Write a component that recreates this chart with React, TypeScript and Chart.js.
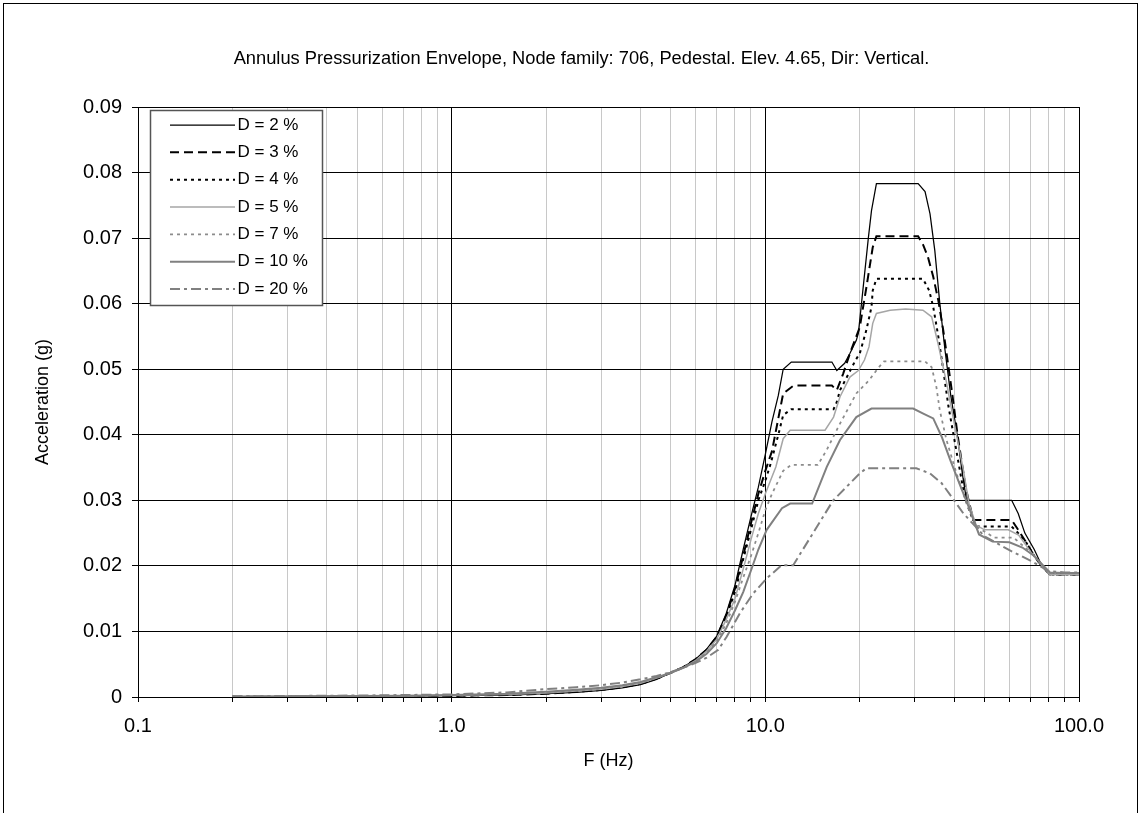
import React, { useEffect, useRef } from 'react';
import { Chart, registerables } from 'chart.js';

Chart.register(...registerables);

const titleText = 'Annulus Pressurization Envelope, Node family: 706, Pedestal. Elev. 4.65, Dir: Vertical.';
const xAxisTitle = 'F (Hz)';
const yAxisTitle = 'Acceleration (g)';

const xTickValues = [0.1, 0.2, 0.3, 0.4, 0.5, 0.6, 0.7, 0.8, 0.9, 1, 2, 3, 4, 5, 6, 7, 8, 9, 10, 20, 30, 40, 50, 60, 70, 80, 90, 100];
const xMajorValues = [0.1, 1, 10, 100];
const xMajorLabels = ['0.1', '1.0', '10.0', '100.0'];
const yTickValues = [0, 0.01, 0.02, 0.03, 0.04, 0.05, 0.06, 0.07, 0.08, 0.09];
const yTickLabels = ['0', '0.01', '0.02', '0.03', '0.04', '0.05', '0.06', '0.07', '0.08', '0.09'];

const seriesLabels = ['D = 2 %', 'D = 3 %', 'D = 4 %', 'D = 5 %', 'D = 7 %', 'D = 10 %', 'D = 20 %'];

const freqD2 = [0.2, 0.3, 0.5, 0.7, 1, 1.5, 2, 2.5, 3, 3.5, 4, 4.5, 5, 5.5, 6, 6.5, 7, 7.5, 8, 8.5, 9, 9.5, 10, 10.5, 11, 11.4, 12.1, 16.3, 16.9, 17.9, 18.6, 19.5, 19.8, 21.3, 21.8, 22.6, 30.7, 32.3, 33.5, 34.7, 36.0, 37.4, 39, 40.9, 42.5, 43.8, 61, 64, 67.2, 72, 76, 80.8, 90, 100];
const accD2 = [0.00003, 0.00005, 0.0001, 0.00013, 0.0002, 0.0003, 0.0005, 0.0007, 0.001, 0.0014, 0.0019, 0.0027, 0.0037, 0.0046, 0.0058, 0.0073, 0.0093, 0.0127, 0.017, 0.0225, 0.0275, 0.032, 0.037, 0.042, 0.046, 0.050, 0.0511, 0.0511, 0.0498, 0.0509, 0.0524, 0.0544, 0.0555, 0.070, 0.0742, 0.0783, 0.0783, 0.0771, 0.0737, 0.0681, 0.060, 0.0529, 0.046, 0.040, 0.034, 0.030, 0.030, 0.028, 0.025, 0.0225, 0.0201, 0.0187, 0.0187, 0.0187];

const freqD3 = [0.2, 0.3, 0.5, 0.7, 1, 1.5, 2, 2.5, 3, 3.5, 4, 4.5, 5, 5.5, 6, 6.5, 7, 7.5, 8, 8.5, 9, 9.5, 10, 10.5, 11, 11.4, 12.3, 16.3, 16.9, 17.7, 18.6, 20, 21, 22, 22.6, 30.7, 31.9, 33.0, 34.3, 35.6, 36.9, 37.7, 39.5, 41, 43.5, 46, 61, 64, 68, 72, 76, 80.8, 90, 100];
const accD3 = [0.00004, 0.00006, 0.0001, 0.00014, 0.0002, 0.0003, 0.0005, 0.0008, 0.0011, 0.0015, 0.002, 0.0028, 0.0037, 0.0046, 0.0058, 0.0072, 0.0092, 0.0124, 0.0165, 0.0215, 0.0265, 0.031, 0.0345, 0.0375, 0.0425, 0.0463, 0.0475, 0.0475, 0.0468, 0.0493, 0.0524, 0.0564, 0.0625, 0.0686, 0.0703, 0.0703, 0.0689, 0.0671, 0.0641, 0.0605, 0.056, 0.0529, 0.046, 0.040, 0.032, 0.027, 0.027, 0.0255, 0.0235, 0.0215, 0.0200, 0.0187, 0.0187, 0.0187];

const freqD4 = [0.2, 0.3, 0.5, 0.7, 1, 1.5, 2, 2.5, 3, 3.5, 4, 4.5, 5, 5.5, 6, 6.5, 7, 7.5, 8, 8.5, 9, 9.5, 10, 10.4, 11, 11.4, 12.1, 16.5, 16.9, 17.3, 18.2, 19.4, 20, 21, 21.8, 22, 22.6, 31.8, 33.3, 34.3, 35.6, 36.9, 38.3, 40.5, 43, 45, 47.1, 61, 64, 68, 72, 76, 80.8, 90, 100];
const accD4 = [0.00004, 0.00006, 0.00011, 0.00015, 0.00022, 0.00035, 0.00055, 0.0008, 0.0011, 0.0015, 0.002, 0.0028, 0.0037, 0.0046, 0.0057, 0.0071, 0.009, 0.0121, 0.016, 0.021, 0.0255, 0.030, 0.033, 0.0356, 0.040, 0.043, 0.0439, 0.0439, 0.045, 0.0468, 0.0488, 0.0514, 0.0524, 0.056, 0.0595, 0.062, 0.0638, 0.0638, 0.062, 0.0595, 0.055, 0.050, 0.0445, 0.038, 0.031, 0.028, 0.026, 0.026, 0.025, 0.0235, 0.0215, 0.020, 0.0187, 0.0187, 0.0187];

const freqD5 = [0.2, 0.3, 0.5, 0.7, 1, 1.5, 2, 2.5, 3, 3.5, 4, 4.5, 5, 5.5, 6, 6.5, 7, 7.5, 8, 8.5, 9, 9.5, 10, 10.8, 11.4, 12, 15.5, 16.5, 17.3, 18.6, 19.8, 20.7, 21.4, 22, 22.6, 25, 28, 31.8, 33.9, 35.5, 37.8, 40.3, 42.8, 44.6, 47, 50, 59.5, 64.2, 70.3, 76, 80.8, 90, 100];
const accD5 = [0.00005, 0.00007, 0.00012, 0.00017, 0.00025, 0.0004, 0.0006, 0.0009, 0.0012, 0.0016, 0.0021, 0.0029, 0.0037, 0.0045, 0.0056, 0.007, 0.0088, 0.0118, 0.015, 0.0195, 0.024, 0.028, 0.031, 0.0351, 0.0394, 0.0407, 0.0407, 0.0427, 0.0458, 0.0488, 0.0498, 0.0514, 0.0534, 0.057, 0.0585, 0.059, 0.0592, 0.059, 0.058, 0.054, 0.048, 0.041, 0.0346, 0.0295, 0.0262, 0.0255, 0.0255, 0.0247, 0.0221, 0.0201, 0.0187, 0.0187, 0.0187];

const freqD7 = [0.2, 0.3, 0.5, 0.7, 1, 1.5, 2, 2.5, 3, 3.5, 4, 4.5, 5, 5.5, 6, 6.5, 7, 7.5, 8, 8.5, 9, 9.5, 10, 10.5, 11.4, 12.1, 14.7, 15.7, 17.3, 19.5, 21.4, 23, 23.9, 32.3, 33.9, 35.1, 36, 37.8, 40.7, 43.8, 47, 53.8, 61.9, 70, 76, 80.8, 90, 100];
const accD7 = [0.00005, 0.00008, 0.00013, 0.00018, 0.00027, 0.00045, 0.0007, 0.001, 0.0013, 0.0017, 0.0022, 0.0029, 0.0037, 0.0045, 0.0055, 0.0068, 0.0085, 0.0112, 0.0145, 0.0182, 0.0215, 0.025, 0.0285, 0.031, 0.0345, 0.0354, 0.0354, 0.0377, 0.0417, 0.0463, 0.0483, 0.0503, 0.0512, 0.0512, 0.0503, 0.0473, 0.0437, 0.0392, 0.0341, 0.0295, 0.026, 0.0243, 0.0243, 0.0221, 0.0203, 0.0189, 0.0189, 0.0189];

const freqD10 = [0.2, 0.3, 0.5, 0.7, 1, 1.5, 2, 2.5, 3, 3.5, 4, 4.5, 5, 5.5, 6, 6.5, 7, 7.5, 8, 8.5, 9, 9.5, 10.1, 11.3, 12, 14.1, 15.7, 17.3, 19.5, 21.8, 29.6, 32, 34.3, 36.5, 38.9, 42, 44.5, 48, 53, 60, 66, 72, 76, 80.8, 90, 100];
const accD10 = [0.00006, 0.0001, 0.00015, 0.0002, 0.0003, 0.0005, 0.0008, 0.0011, 0.0014, 0.0018, 0.0023, 0.003, 0.0037, 0.0045, 0.0054, 0.0066, 0.0082, 0.0105, 0.0132, 0.016, 0.0193, 0.0225, 0.0255, 0.0288, 0.0295, 0.0295, 0.0351, 0.0392, 0.0427, 0.044, 0.044, 0.0432, 0.0425, 0.0397, 0.0361, 0.032, 0.029, 0.0248, 0.0237, 0.0236, 0.0228, 0.0215, 0.0203, 0.019, 0.0189, 0.0189];

const freqD20 = [0.2, 0.3, 0.5, 0.7, 1, 1.5, 2, 2.5, 3, 3.5, 4, 4.5, 5, 5.5, 6, 6.5, 7.08, 7.53, 8.3, 9.15, 10.1, 11.27, 12.27, 16.46, 20, 21, 30.3, 33.5, 36.5, 39.3, 42.8, 50, 60, 70, 80, 90, 100];
const accD20 = [0.0001, 0.00015, 0.00022, 0.0003, 0.0004, 0.0007, 0.0012, 0.0015, 0.0018, 0.0022, 0.0027, 0.0032, 0.0038, 0.0045, 0.0052, 0.006, 0.0072, 0.0092, 0.0128, 0.0158, 0.0181, 0.0201, 0.0201, 0.030, 0.0341, 0.0349, 0.0349, 0.0341, 0.0326, 0.0305, 0.028, 0.0245, 0.0224, 0.0208, 0.0192, 0.019, 0.019];

const seriesFreqs = [freqD2, freqD3, freqD4, freqD5, freqD7, freqD10, freqD20];
const seriesAccs = [accD2, accD3, accD4, accD5, accD7, accD10, accD20];

const seriesColors = ['#000000', '#000000', '#000000', '#a6a6a6', '#8c8c8c', '#808080', '#808080'];
const seriesDashes = [[], [9, 5], [3, 4], [], [3, 4], [], [10, 4, 3, 4]];
const seriesWidths = [1.25, 2, 2, 1.5, 1.75, 2, 2];

const FONT = '"Liberation Sans", Arial, Helvetica, sans-serif';

const framePlugin = {
  id: 'framePlugin',
  afterDraw(chart: any) {
    const ctx = chart.ctx;
    ctx.save();
    ctx.strokeStyle = '#000';
    ctx.lineWidth = 1;
    ctx.strokeRect(3.5, 3.5, 1134, 1000);
    ctx.fillStyle = '#000';
    ctx.font = `18.3px ${FONT}`;
    ctx.textAlign = 'center';
    ctx.textBaseline = 'middle';
    ctx.fillText(titleText, 581.5, 59);
    ctx.restore();
  },
};

const legendPlugin = {
  id: 'boxLegend',
  afterDatasetsDraw(chart: any) {
    const ctx = chart.ctx;
    const left = 150.5;
    const top = 110.5;
    const w = 172;
    const h = 195;
    ctx.save();
    ctx.fillStyle = '#ffffff';
    ctx.fillRect(left, top, w, h);
    ctx.strokeStyle = '#555555';
    ctx.lineWidth = 1.5;
    ctx.strokeRect(left, top, w, h);
    ctx.font = `17px ${FONT}`;
    ctx.textAlign = 'left';
    ctx.textBaseline = 'middle';
    chart.data.datasets.forEach((ds: any, i: number) => {
      const y = 125 + i * 27.35;
      ctx.beginPath();
      ctx.strokeStyle = ds.borderColor;
      ctx.lineWidth = ds.borderWidth;
      ctx.setLineDash(ds.borderDash || []);
      ctx.moveTo(170, y);
      ctx.lineTo(235, y);
      ctx.stroke();
      ctx.setLineDash([]);
      ctx.fillStyle = '#000';
      ctx.fillText(ds.label, 237.5, y);
    });
    ctx.restore();
  },
};

export default function App() {
  const canvasRef = useRef<HTMLCanvasElement | null>(null);

  useEffect(() => {
    const canvas = canvasRef.current;
    if (!canvas) return;
    const datasets = seriesLabels.map((label, i) => ({
      label,
      data: seriesFreqs[i].map((f, j) => ({ x: f, y: seriesAccs[i][j] })),
      borderColor: seriesColors[i],
      backgroundColor: seriesColors[i],
      borderDash: seriesDashes[i],
      borderWidth: seriesWidths[i],
      pointRadius: 0,
      tension: 0,
      fill: false,
      order: seriesLabels.length - i,
    }));

    const chart = new Chart(canvas, {
      type: 'line',
      data: { datasets },
      options: {
        animation: false,
        responsive: false,
        events: [],
        layout: { padding: { left: 0, top: 107, right: 62, bottom: 0 } },
        plugins: {
          legend: { display: false },
          title: { display: false },
          tooltip: { enabled: false },
        },
        scales: {
          x: {
            type: 'logarithmic',
            min: 0.1,
            max: 100,
            afterBuildTicks: (scale: any) => {
              scale.ticks = xTickValues.map((v) => ({ value: v, major: xMajorValues.includes(v) }));
            },
            afterFit: (scale: any) => {
              scale.height = 116;
            },
            ticks: {
              autoSkip: false,
              maxRotation: 0,
              minRotation: 0,
              padding: 12,
              color: '#000',
              font: { family: FONT, size: 20 },
              callback: (value: any) => {
                const idx = xMajorValues.findIndex((m) => Math.abs(m - Number(value)) < 1e-9);
                return idx >= 0 ? xMajorLabels[idx] : '';
              },
            },
            grid: {
              color: (c: any) => {
                const v = c.tick ? c.tick.value : 0;
                return xMajorValues.some((m) => Math.abs(m - v) < 1e-9) ? '#000000' : '#c8c8c8';
              },
              tickColor: '#000',
              tickLength: 5,
              lineWidth: 1,
            },
            border: { display: true, color: '#000', width: 1 },
            title: {
              display: true,
              text: xAxisTitle,
              color: '#000',
              font: { family: FONT, size: 18 },
              padding: { top: 0, bottom: 41 },
            },
          },
          y: {
            type: 'linear',
            min: 0,
            max: 0.09,
            afterBuildTicks: (scale: any) => {
              scale.ticks = yTickValues.map((v) => ({ value: v }));
            },
            afterFit: (scale: any) => {
              scale.width = 138;
            },
            ticks: {
              padding: 10,
              color: '#000',
              font: { family: FONT, size: 20 },
              callback: (_v: any, index: number) => yTickLabels[index],
            },
            grid: {
              color: '#000',
              tickColor: '#000',
              tickLength: 6,
              lineWidth: 1,
            },
            border: { display: true, color: '#000', width: 1 },
            title: {
              display: true,
              text: yAxisTitle,
              color: '#000',
              font: { family: FONT, size: 18 },
              padding: { top: 32, bottom: 0 },
            },
          },
        },
      },
      plugins: [framePlugin, legendPlugin],
    });
    return () => chart.destroy();
  }, []);

  return (
    <div style={{ position: 'fixed', left: 0, top: 0, width: 1141, height: 813, background: '#fff', overflow: 'hidden' }}>
      <canvas ref={canvasRef} width={1141} height={813} style={{ display: 'block', width: 1141, height: 813 }} />
    </div>
  );
}
